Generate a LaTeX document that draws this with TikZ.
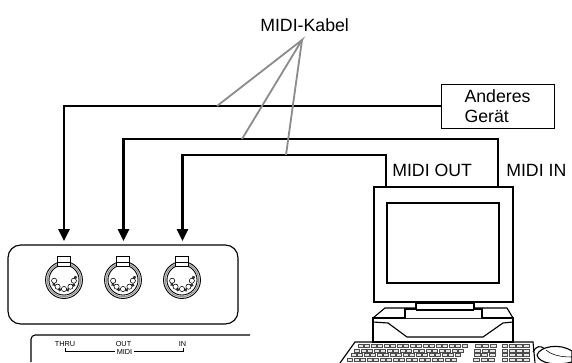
\documentclass[tikz,border=0pt]{standalone}
\usepackage{fontspec}
\setmainfont{Liberation Sans}
\usetikzlibrary{arrows.meta,positioning}

\tikzset{
    kabel/.style={line width=1.8pt, -{Triangle[length=8.5pt, width=7.8pt]}},
    zeiger/.style={line width=1.3pt, draw=black!45},
    umriss/.style={line width=0.8pt},
    duenn/.style={line width=0.4pt},
    taste/.style={line width=0.3pt, draw=black!70, fill=black!10},
    schild/.style={font=\fontsize{12.6}{14.2}\selectfont, inner sep=0pt, anchor=base west},
    klein/.style={font=\fontsize{5.2}{6}\selectfont, inner sep=0pt},
}

% 5-pin DIN socket, centre in pixel units
\newcommand{\midibuchse}[2]{%
    \begin{scope}[shift={(#1,#2)}]
        \fill[black!18, even odd rule] (0,0) circle (18.5) (0,0) circle (15);
        \draw[line width=0.6pt] (0,0) circle (18.5) (0,0) circle (15);
        \draw[line width=0.3pt, black!60] (0,0) circle (16.7);
        \draw[line width=0.5pt, fill=white] (-6.5,-24) rectangle (6.5,-14);
        \draw[line width=0.5pt] (-6.5,-18) -- (6.5,-18);
        \foreach \a in {10,50,90,130,170} {
            \draw[line width=1.8pt, black!80] (\a:10) ++(0,-1) -- ++(\a-75:5);
            \draw[line width=0.4pt, fill=white] (\a:10) ++(0,-1) circle (2.6);
        }
    \end{scope}
}

\begin{document}
\begin{tikzpicture}[x=0.025cm, y=-0.025cm]
    \useasboundingbox (0,0) rectangle (572,362);

    % labels
    \node[schild] (kabeltext) at (260,31) {MIDI-Kabel};
    \node[draw, line width=0.6pt, minimum width=2.825cm, minimum height=1.1cm,
        align=left, inner sep=0pt, font=\fontsize{12.6}{14.2}\selectfont]
        (geraet) at (497.5,106) {Anderes\\Gerät};
    \node[schild] (outtext) at (392,176) {MIDI OUT};
    \node[schild] (intext) at (506,176) {MIDI IN};

    % instrument with its MIDI sockets
    \draw[umriss, rounded corners=9pt] (8,245) rectangle (238,324);
    \midibuchse{64}{280}
    \midibuchse{123}{280}
    \midibuchse{182}{280}
    \coordinate (thru) at (64,241);
    \coordinate (out) at (123.5,241);
    \coordinate (in) at (182.5,241);

    \draw[umriss, rounded corners=3pt] (250,335) -- (31,335) -- (31,362);
    \node[klein] (lthru) at (65,344) {THRU};
    \node[klein] (lout) at (123.5,344) {OUT};
    \node[klein] (lin) at (182.5,344) {IN};
    \node[klein, inner xsep=1pt] (lmidi) at (124.5,351.5) {MIDI};
    \draw[duenn] (65,347.5) |- (lmidi.west);
    \draw[duenn] (183,347.5) |- (lmidi.east);

    % computer
    \node[draw, line width=1pt, minimum width=3.475cm, minimum height=2.875cm,
        inner sep=0pt] (monitor) at (443.5,244.5) {};
    \node[draw, line width=1pt, minimum width=2.8cm, minimum height=2cm,
        inner sep=0pt] (bild) at (443,243) {};
    \coordinate (pout) at (386,187);
    \coordinate (pin) at (498,187);

    \draw[umriss] (373,318) -- (385,308) -- (507,308) -- (513,318);
    \draw[umriss] (373,318) rectangle (513,342);
    \draw[umriss] (373,322) -- (388,323) -- (407,337) -- (483,337) -- (503,323) -- (513,322);
    \draw[umriss, fill=white] (405,318) -- (405,309) -- (416,309) -- (416,303)
        -- (474,303) -- (474,309) -- (482,309) -- (482,318);
    \draw[umriss] (416,310) -- (474,310);

    \draw[umriss] (340,363) -- (355,342) -- (533,342) -- (535,363);
    \foreach \r in {0,1,2,3} {
        \foreach \k in {0,...,16}
            \draw[taste] (358+\k*6.5-\r*3.5, 344.5+\r*4.5) rectangle ++(5.2,3.2);
        \foreach \k in {0,...,2}
            \draw[taste] (475+\k*7.5-\r*0.5, 344.5+\r*4.5) rectangle ++(6,3.2);
        \foreach \k in {0,...,3}
            \draw[taste] (502+\k*7.2, 344.5+\r*4.5) rectangle ++(5.6,3.2);
    }
    \draw[umriss] (533,352) .. controls (536,346) and (540,345) .. (545,349);
    \draw[umriss, fill=white] (537,355) .. controls (540,346) and (560,343) .. (572,351)
        -- (572,362) .. controls (558,366) and (539,364) .. (537,355);
    \draw[duenn] (546,350) .. controls (552,355) and (560,357) .. (572,357);

    % cables
    \draw[kabel] (geraet.west) -| (thru);
    \draw[kabel] (pin) -- ++(0,-48) -| (out);
    \draw[kabel] (pout) -- ++(0,-32) -| (in);

    \coordinate (spitze) at (302,40);
    \coordinate (k1) at (217,106);
    \coordinate (k2) at (242,139);
    \coordinate (k3) at (286,155);
    \draw[zeiger] (k1) -- (spitze) -- (k2);
    \draw[zeiger] (spitze) -- (k3);
\end{tikzpicture}
\end{document}
